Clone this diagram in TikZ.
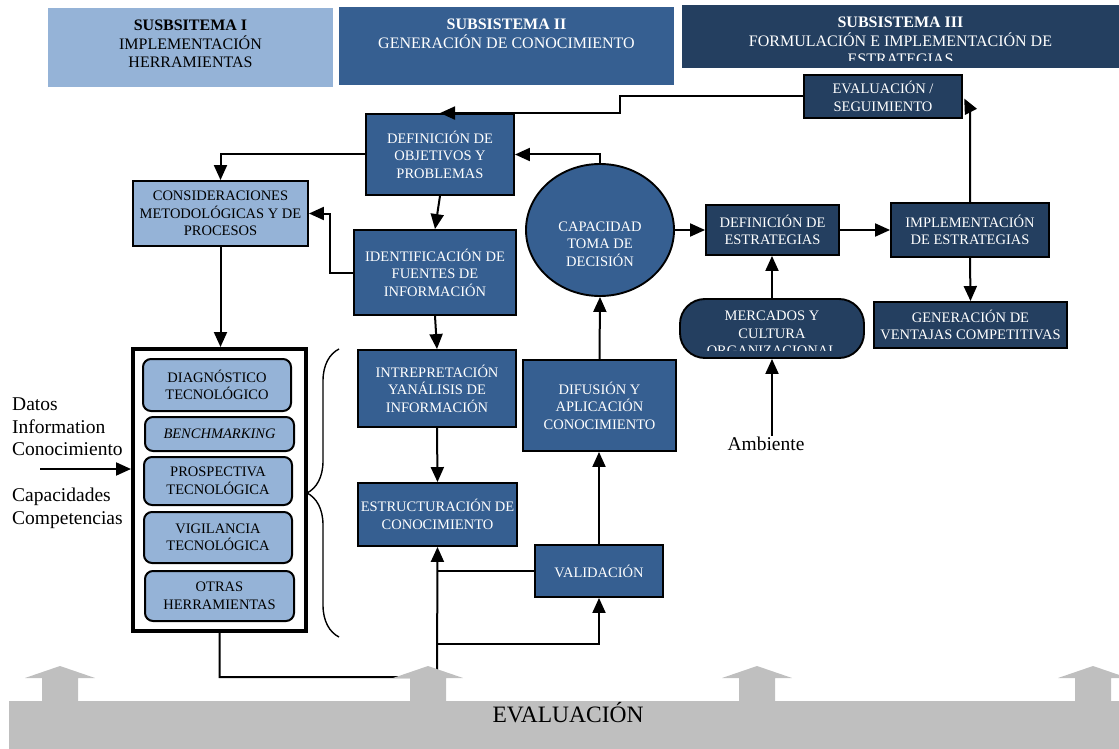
\documentclass[tikz,border=0pt]{standalone}
\usepackage{fontspec}
\setmainfont{Liberation Serif}
\usepackage{xcolor}
\usetikzlibrary{arrows.meta,shapes.geometric,decorations.pathreplacing}
\definecolor{lightblue}{RGB}{149,179,215}
\definecolor{midblue}{RGB}{54,95,145}
\definecolor{navyblue}{RGB}{36,63,96}
\definecolor{evalgray}{RGB}{191,191,191}
\begin{document}
\begin{tikzpicture}[
  x=1pt, y=-1pt,
  font=\fontsize{14.5}{17.5}\selectfont,
  hdrbox/.style={inner sep=0pt},
  hdr/.style={inner sep=1pt, align=center, anchor=north, font=\fontsize{16}{18.5}\selectfont},
  box/.style={draw, line width=1.9pt, inner sep=1pt, align=center, text=white},
  midbox/.style={box, fill=midblue},
  navybox/.style={box, fill=navyblue},
  tool/.style={draw, line width=2pt, rounded corners=8pt, fill=lightblue, inner sep=1pt, align=center, minimum width=148pt},
  side/.style={inner sep=0pt, align=left, anchor=west, font=\fontsize{19.5}{22.7}\selectfont},
  arr/.style={-{Triangle[length=15pt,width=13pt]}, line width=2pt},
  lead/.style={line width=2pt},
]
\useasboundingbox (0,0) rectangle (1119,749);

\node[hdrbox, fill=lightblue, minimum width=285pt, minimum height=79pt] (sub1) at (190.5,47.5) {};
\node[hdr] (sub1txt) at (190.5,19) {\textbf{SUSBSITEMA I}\\IMPLEMENTACIÓN\\HERRAMIENTAS};
\node[hdrbox, fill=midblue, minimum width=335pt, minimum height=78pt] (sub2) at (506.5,46) {};
\node[hdr, text=white] (sub2txt) at (506.5,18) {\textbf{SUBSISTEMA II}\\GENERACIÓN DE CONOCIMIENTO};
\node[hdrbox, fill=navyblue, minimum width=437pt, minimum height=63pt] (sub3) at (900.5,36.5) {};
\begin{scope}
  \clip (682,5) rectangle (1119,61);
  \node[hdr, text=white] (sub3txt) at (900.5,16) {\textbf{SUBSISTEMA III}\\FORMULACIÓN E IMPLEMENTACIÓN DE\\ESTRATEGIAS};
\end{scope}

\node[navybox, line width=2.4pt, minimum width=158pt, minimum height=43pt] (evalseg) at (883,96.5) {EVALUACIÓN /\\SEGUIMIENTO};
\node[midbox, minimum width=148pt, minimum height=81pt] (defobj) at (440,154.5) {DEFINICIÓN DE\\OBJETIVOS Y\\PROBLEMAS};
\node[box, fill=lightblue, text=black, minimum width=175pt, minimum height=65pt] (consid) at (220.5,213.5) {CONSIDERACIONES\\METODOLÓGICAS Y DE\\PROCESOS};
\node[midbox, minimum width=162pt, minimum height=85pt] (ident) at (435,272.5) {IDENTIFICACIÓN DE\\FUENTES DE\\INFORMACIÓN};
\node[midbox, minimum width=158pt, minimum height=77pt] (interp) at (437,388.5) {INTREPRETACIÓN\\YANÁLISIS DE\\INFORMACIÓN};
\node[midbox, minimum width=159pt, minimum height=63pt] (estruc) at (437.5,514.5) {ESTRUCTURACIÓN DE\\CONOCIMIENTO};
\node[midbox, minimum width=128pt, minimum height=52pt] (valid) at (599,571) {VALIDACIÓN};
\node[midbox, minimum width=153pt, minimum height=91pt] (difus) at (599.5,405.5) {DIFUSIÓN Y\\APLICACIÓN\\CONOCIMIENTO};
\node[ellipse, draw, line width=1.9pt, fill=midblue, minimum width=148pt, minimum height=132pt, inner sep=0pt] (dec) at (600,230) {};
\node[text=white, align=center, inner sep=1pt] (dectxt) at (600,244) {CAPACIDAD\\TOMA DE\\DECISIÓN};
\node[navybox, minimum width=133pt, minimum height=50pt] (defestr) at (772.5,230) {DEFINICIÓN DE\\ESTRATEGIAS};
\node[navybox, minimum width=158pt, minimum height=54pt] (implest) at (970,230) {IMPLEMENTACIÓN\\DE ESTRATEGIAS};
\node[navybox, minimum width=193pt, minimum height=46pt] (genvent) at (970.5,325) {GENERACIÓN DE\\VENTAJAS COMPETITIVAS};
\node[navybox, rounded corners=25pt, minimum width=184pt, minimum height=59pt] (mercados) at (772,328.5) {};
\begin{scope}
  \clip (680,299) rectangle (864,350);
  \node[align=center, text=white, anchor=north, inner sep=1pt] (mercadostxt) at (772,310) {MERCADOS Y\\CULTURA\\ORGANIZACIONAL};
\end{scope}

\node[draw, line width=4pt, fill=white, minimum width=173pt, minimum height=282pt] (tools) at (219.5,490) {};
\node[tool, minimum height=52pt] (diag) at (217,385) {DIAGNÓSTICO\\TECNOLÓGICO};
\node[tool, minimum width=149pt, minimum height=34pt, font=\fontsize{14.5}{17.5}\selectfont\itshape] (bench) at (219.5,434) {BENCHMARKING};
\node[tool, minimum height=48pt] (prosp) at (218,481) {PROSPECTIVA\\TECNOLÓGICA};
\node[tool, minimum height=51pt] (vigil) at (218,537.5) {VIGILANCIA\\TECNOLÓGICA};
\node[tool, minimum width=149pt, minimum height=50pt] (otras) at (219.5,596) {OTRAS\\HERRAMIENTAS};

\node[side] (datos) at (12,427) {Datos\\Information\\Conocimiento};
\node[side] (capac) at (12,508) {Capacidades\\Competencias};
\node[inner sep=1pt, anchor=base, font=\fontsize{19.5}{22}\selectfont] (amb) at (766,450.7) {Ambiente};
\coordinate (inarr) at (40,469);
\coordinate (base) at (437,677);
\coordinate (split) at (437,644);

\draw[arr] (evalseg.west) -- ++(-183,0) |- (defobj.north);
\draw[arr] (dec.north) |- (defobj.east);
\draw[arr] (defobj.west) -| (consid.north);
\draw[arr] (defobj.south) -- (ident.north);
\draw[arr] (ident.west) -- ++(-23,0) |- (consid.east);
\draw[arr] (consid.south) -- (consid.south |- tools.north);
\draw[arr] (ident.south) -- (interp.north);
\draw[arr] (interp.south) -- (estruc.north);
\draw[arr] (difus.north) -- (dec.south);
\draw[arr] (valid.north) -- (valid.north |- difus.south);
\draw[arr] (dec.east) -- (defestr.west);
\draw[arr] (defestr.east) -- (implest.west);
\draw[arr] (implest.north) -- ++(0,-92) -- ([shift={(1,2)}]evalseg.east);
\draw[arr] (implest.south) -- (genvent.north);
\draw[arr] (mercados.north) -- (mercados.north |- defestr.south);
\draw[arr] (amb.north -| mercados.south) -- (mercados.south);
\draw[arr] (inarr) -- (inarr -| tools.west);
\draw[arr] (tools.south) |- (base) -- (estruc.south);
\draw[lead] (valid.west) -- (valid.west -| base);
\draw[arr] (split) -| (valid.south);
\draw[line width=1.4pt, decorate, decoration={brace, amplitude=32pt}] (339,637) -- (339,349);

\fill[evalgray] (9,701) rectangle (1119,749);
\foreach \gx in {60,428,757,1093}
  \fill[evalgray] (\gx-18,702) -- (\gx-18,678) -- (\gx-35,678) -- (\gx,666) -- (\gx+35,678) -- (\gx+18,678) -- (\gx+18,702) -- cycle;
\node[inner sep=0pt, anchor=base, font=\fontsize{23.5}{26}\selectfont] (evaltxt) at (568,722.7) {EVALUACIÓN};
\end{tikzpicture}
\end{document}
